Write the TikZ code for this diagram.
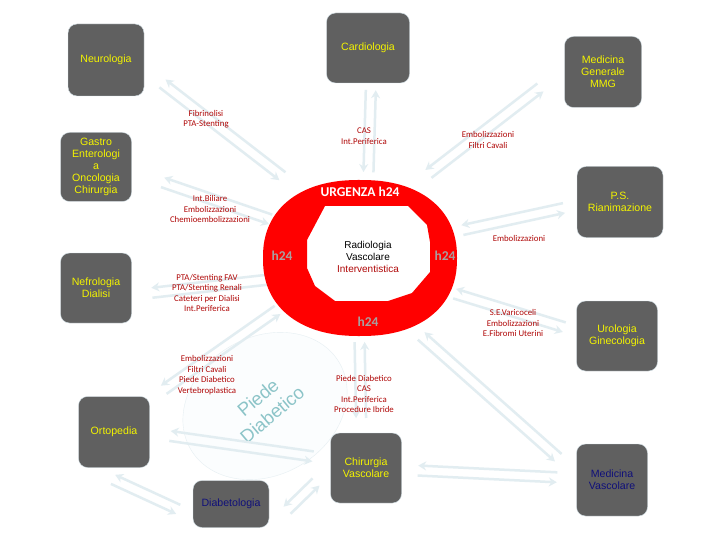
\documentclass[tikz,border=0pt]{standalone}
\usepackage{fontspec}
\setmainfont{Liberation Sans}
\newfontfamily\calib{Carlito}
\usetikzlibrary{arrows.meta, calc}

\definecolor{boxgray}{HTML}{606060}
\definecolor{boxline}{HTML}{D5E2E8}
\definecolor{boxtext}{HTML}{F4F400}
\definecolor{navytext}{HTML}{10107A}
\definecolor{labelred}{HTML}{B00808}
\definecolor{linkc}{HTML}{E2EDF1}
\definecolor{urgred}{HTML}{FF0000}
\definecolor{hgray}{HTML}{A8A0A0}
\definecolor{pdtext}{HTML}{8CC4C8}
\definecolor{pdline}{HTML}{E6EFF3}
\definecolor{pdfill}{HTML}{FBFDFE}

\begin{document}
\begin{tikzpicture}[x=1pt, y=-1pt,
    box/.style={draw=boxline, fill=boxgray, rounded corners=9pt, text=boxtext, align=center,
        font=\fontsize{10.6}{12}\selectfont, inner sep=0pt},
    lbl/.style={text=labelred, align=center, font=\calib\fontsize{8.8}{10.5}\selectfont},
    hlbl/.style={text=hgray, font=\calib\bfseries\fontsize{13.5}{14}\selectfont},
    link/.style={draw=linkc, line width=2.5pt, -{Stealth[length=8pt,width=9pt]}}]
    \useasboundingbox (0,0) rectangle (720,540);
    \fill[white] (0,0) rectangle (720,540);

    \coordinate (ring) at (362,258);
    \coordinate (pd) at (265,406);
    \draw[pdline, fill=pdfill, rotate around={30:(pd)}] (pd) ellipse [x radius=86, y radius=69];
    \node[text=pdtext, rotate=40, align=center, font=\fontsize{18.5}{22}\selectfont] (pdtxt) at (pd) {Piede\\Diabetico};

    \node[box, minimum width=76, minimum height=72] (neuro) at (106,60) {Neurologia};
    \node[box, minimum width=83, minimum height=70] (card) at (368,48) {Cardiologia};
    \node[box, minimum width=77, minimum height=71] (mmg) at (603,72) {Medicina\\Generale\\MMG};
    \node[box, minimum width=71, minimum height=69] (gastro) at (96,167) {Gastro\\Enterologi\\a\\Oncologia\\Chirurgia};
    \node[box, minimum width=86, minimum height=71] (ps) at (620,202) {P.S.\\Rianimazione};
    \node[box, minimum width=71, minimum height=70] (nefro) at (96,288) {Nefrologia\\Dialisi};
    \node[box, minimum width=81, minimum height=70] (uro) at (617,336) {Urologia\\Ginecologia};
    \node[box, minimum width=71, minimum height=71] (orto) at (114,432) {Ortopedia};
    \node[box, minimum width=71, minimum height=70] (chir) at (366,468) {Chirurgia\\Vascolare};
    \node[box, minimum width=76, minimum height=47, text=navytext] (diab) at (231,504) {Diabetologia};
    \node[box, minimum width=71, minimum height=72, text=navytext] (medvasc) at (612,480) {Medicina\\Vascolare};

    \foreach \na/\nb/\sa/\sb/\off in {neuro/ring/59pt/113pt/-16pt, card/ring/42pt/86pt/-4pt,
        mmg/ring/59pt/104pt/26pt, gastro/ring/68pt/99pt/-7pt, ps/ring/56pt/104pt/6pt,
        nefro/ring/55pt/84pt/11pt, uro/ring/53pt/99pt/-7pt, orto/ring/65pt/99pt/-6pt,
        chir/ring/50pt/84pt/-4pt, orto/chir/56pt/54pt/-4pt, orto.south/diab.west/4pt/11pt/11pt,
        diab.south east/chir.west/25pt/20pt/0pt, ring/medvasc/96pt/55pt/19pt, chir/medvasc/52pt/55pt/0pt}
    {
        \draw[link, shorten <=\sa, shorten >=\sb] ($(\na)!\off+5pt!-90:(\nb)$) -- ($(\nb)!\off+5pt!90:(\na)$);
        \draw[link, shorten <=\sb, shorten >=\sa] ($(\nb)!\off-5pt!90:(\na)$) -- ($(\na)!\off-5pt!-90:(\nb)$);
    }

    \fill[urgred, even odd rule]
        plot[domain=0:360, samples=120, smooth] ({360+97*sign(cos(\x))*abs(cos(\x))^0.88}, {258+78*sign(sin(\x))*abs(sin(\x))^0.88}) -- cycle
        (325,206) -- (408,206) -- (427,225) -- (430,242) -- (430,272) -- (412,293)
        -- (388,301) -- (335,301) -- (315,286) -- (307,268) -- (307,240) -- cycle;
    \node[hlbl, text=white] (urg) at (360,192) {URGENZA h24};
    \node[hlbl] (hleft) at (282,256) {h24};
    \node[hlbl] (hright) at (445,256) {h24};
    \node[hlbl] (hbottom) at (368,322) {h24};
    \node[align=center, font=\fontsize{10}{12}\selectfont] (rvi) at (368,257)
        {Radiologia\\Vascolare\\\textcolor{labelred}{Interventistica}};

    \node[lbl] (lblneuro) at (206,119) {Fibrinolisi\\PTA-Stenting};
    \node[lbl] (lblcard) at (364,136) {CAS\\Int.Periferica};
    \node[lbl] (lblmmg) at (488,140) {Embolizzazioni\\Filtri Cavali};
    \node[lbl] (lblgastro) at (210,209) {Int.Biliare\\Embolizzazioni\\Chemioembolizzazioni};
    \node[lbl] (lblps) at (519,238) {Embolizzazioni};
    \node[lbl] (lblnefro) at (207,293) {PTA/Stenting FAV\\PTA/Stenting Renali\\Cateteri per Dialisi\\Int.Periferica};
    \node[lbl] (lbluro) at (513,323) {S.E.Varicoceli\\Embolizzazioni\\E.Fibromi Uterini};
    \node[lbl] (lblorto) at (207,375) {Embolizzazioni\\Filtri Cavali\\Piede Diabetico\\Vertebroplastica};
    \node[lbl] (lblchir) at (364,394) {Piede Diabetico\\CAS\\Int.Periferica\\Procedure Ibride};
\end{tikzpicture}
\end{document}
